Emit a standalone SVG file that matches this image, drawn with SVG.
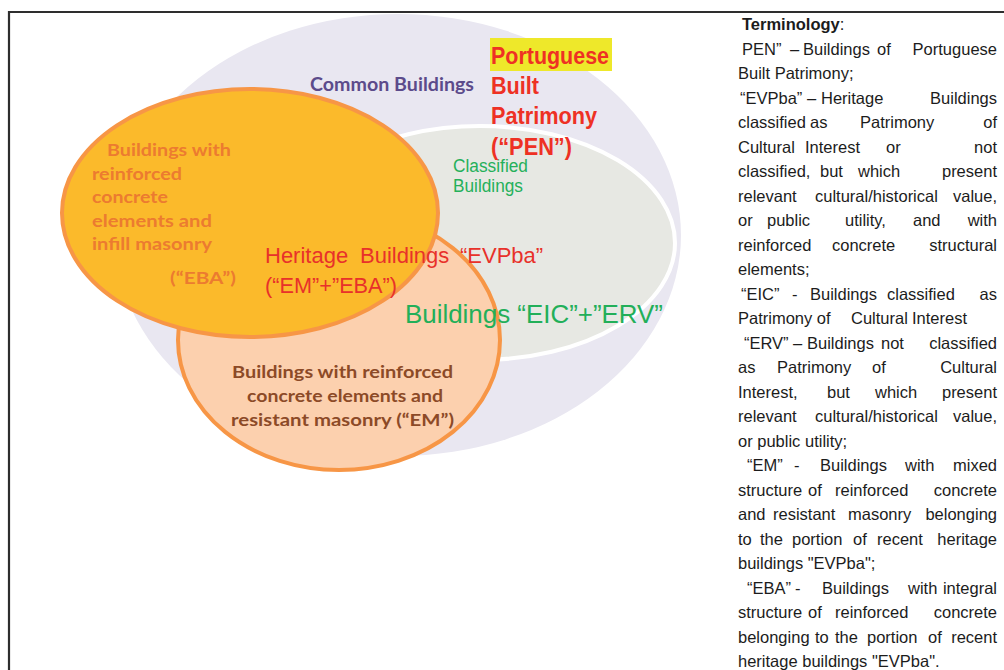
<svg xmlns="http://www.w3.org/2000/svg" width="1004" height="670" viewBox="0 0 1004 670">
<style>
.lbl{font-family:Lato,"Liberation Sans",sans-serif;font-weight:bold}
.nar{font-family:"Liberation Sans",Arial,sans-serif}
.term{font-family:"Liberation Sans",Arial,sans-serif;font-size:16.5px;fill:#1c1c1c}
.ring{stroke:#F79646;stroke-width:4}
</style>
<rect x="0" y="0" width="1004" height="670" fill="#ffffff"/>
<g id="frame" stroke="#2e2e2e" stroke-width="2.2" fill="none">
<line x1="8" y1="12" x2="1004" y2="12"/>
<line x1="9" y1="11" x2="9" y2="670"/>
</g>
<g id="common-buildings">
<ellipse cx="398" cy="235" rx="283" ry="221" fill="#E9E7F1"/>
<text class="lbl" x="310" y="91" font-size="18" fill="#5C4B8B" textLength="164" lengthAdjust="spacingAndGlyphs">Common Buildings</text>
</g>
<g id="classified-buildings">
<ellipse cx="480" cy="243" rx="195" ry="117" fill="#E7E8E3" stroke="#ffffff" stroke-width="4"/>
<text class="nar" x="453" y="172" font-size="17.5" fill="#25B05A" textLength="75" lengthAdjust="spacingAndGlyphs">Classified</text>
<text class="nar" x="453" y="192" font-size="17.5" fill="#25B05A" textLength="70" lengthAdjust="spacingAndGlyphs">Buildings</text>
</g>
<g id="em-buildings">
<ellipse class="ring" cx="339" cy="340" rx="161" ry="130" fill="#FCD0AE"/>
<text class="lbl" x="232" y="378" font-size="17.5" fill="#8C4A27" textLength="221" lengthAdjust="spacingAndGlyphs">Buildings with reinforced</text>
<text class="lbl" x="247" y="402" font-size="17.5" fill="#8C4A27" textLength="196" lengthAdjust="spacingAndGlyphs">concrete elements and</text>
<text class="lbl" x="231" y="426" font-size="17.5" fill="#8C4A27" textLength="223" lengthAdjust="spacingAndGlyphs">resistant masonry (“EM”)</text>
</g>
<g id="eba-buildings">
<ellipse class="ring" cx="250" cy="213" rx="188" ry="124" fill="#FBBA2B"/>
<g class="lbl" font-size="17" fill="#EC7B30">
<text x="107" y="156" textLength="124" lengthAdjust="spacingAndGlyphs">Buildings with</text>
<text x="92" y="180" textLength="90" lengthAdjust="spacingAndGlyphs">reinforced</text>
<text x="92" y="203" textLength="76" lengthAdjust="spacingAndGlyphs">concrete</text>
<text x="92" y="227" textLength="120" lengthAdjust="spacingAndGlyphs">elements and</text>
<text x="92" y="250" textLength="120" lengthAdjust="spacingAndGlyphs">infill masonry</text>
<text x="170" y="284" textLength="66" lengthAdjust="spacingAndGlyphs">(“EBA”)</text>
</g>
</g>
<g id="pen-label">
<rect x="490" y="38" width="122" height="33" fill="#EEE82A"/>
<g class="nar" font-weight="bold" font-size="23" fill="#EE3124">
<text x="491" y="64" textLength="118" lengthAdjust="spacingAndGlyphs">Portuguese</text>
<text x="491" y="94" textLength="48" lengthAdjust="spacingAndGlyphs">Built</text>
<text x="491" y="124" textLength="106" lengthAdjust="spacingAndGlyphs">Patrimony</text>
<text x="491" y="155" textLength="81" lengthAdjust="spacingAndGlyphs">(“PEN”)</text>
</g>
</g>
<g id="evpba-label" class="nar" font-size="22" fill="#E8312A">
<text y="263"><tspan x="265">Heritage</tspan><tspan x="360">Buildings</tspan><tspan x="460">“EVPba”</tspan></text>
<text x="265" y="293" textLength="132" lengthAdjust="spacingAndGlyphs">(“EM”+”EBA”)</text>
</g>
<g id="eic-erv-label">
<text class="nar" x="405" y="323" font-size="25" fill="#22AF59" textLength="258" lengthAdjust="spacingAndGlyphs">Buildings “EIC”+”ERV”</text>
</g>
<g id="connectors"></g>
<g id="terminology" class="term">
<text y="30"><tspan x="742" font-weight="bold">Terminology</tspan>:</text>
<text y="54.5"><tspan x="742">PEN”</tspan><tspan x="790">–</tspan><tspan x="803">Buildings</tspan><tspan x="877">of</tspan><tspan x="997" text-anchor="end">Portuguese</tspan></text>
<text x="738" y="79">Built Patrimony;</text>
<text y="103.5"><tspan x="740">“EVPba”</tspan><tspan x="807">–</tspan><tspan x="821">Heritage</tspan><tspan x="997" text-anchor="end">Buildings</tspan></text>
<text y="128"><tspan x="738">classified</tspan><tspan x="810">as</tspan><tspan x="860">Patrimony</tspan><tspan x="997" text-anchor="end">of</tspan></text>
<text y="152.5"><tspan x="738">Cultural</tspan><tspan x="805">Interest</tspan><tspan x="886">or</tspan><tspan x="997" text-anchor="end">not</tspan></text>
<text y="177"><tspan x="738">classified,</tspan><tspan x="820">but</tspan><tspan x="858">which</tspan><tspan x="997" text-anchor="end">present</tspan></text>
<text y="201.5"><tspan x="738">relevant</tspan><tspan x="815">cultural/historical</tspan><tspan x="997" text-anchor="end">value,</tspan></text>
<text y="226"><tspan x="738">or</tspan><tspan x="767">public</tspan><tspan x="845">utility,</tspan><tspan x="913">and</tspan><tspan x="997" text-anchor="end">with</tspan></text>
<text y="250.5"><tspan x="738">reinforced</tspan><tspan x="832">concrete</tspan><tspan x="997" text-anchor="end">structural</tspan></text>
<text x="738" y="275">elements;</text>
<text y="299.5"><tspan x="741">“EIC”</tspan><tspan x="792">-</tspan><tspan x="810">Buildings</tspan><tspan x="887">classified</tspan><tspan x="997" text-anchor="end">as</tspan></text>
<text y="324"><tspan x="738">Patrimony of</tspan><tspan x="851">Cultural</tspan><tspan x="912">Interest</tspan></text>
<text y="348.5"><tspan x="744">“ERV”</tspan><tspan x="793">–</tspan><tspan x="807">Buildings</tspan><tspan x="881">not</tspan><tspan x="997" text-anchor="end">classified</tspan></text>
<text y="373"><tspan x="738">as</tspan><tspan x="777">Patrimony</tspan><tspan x="872">of</tspan><tspan x="997" text-anchor="end">Cultural</tspan></text>
<text y="397.5"><tspan x="738">Interest,</tspan><tspan x="827">but</tspan><tspan x="875">which</tspan><tspan x="997" text-anchor="end">present</tspan></text>
<text y="422"><tspan x="738">relevant</tspan><tspan x="815">cultural/historical</tspan><tspan x="997" text-anchor="end">value,</tspan></text>
<text x="738" y="446.5">or public utility;</text>
<text y="471"><tspan x="747">“EM”</tspan><tspan x="794">-</tspan><tspan x="820">Buildings</tspan><tspan x="905">with</tspan><tspan x="997" text-anchor="end">mixed</tspan></text>
<text y="495.5"><tspan x="738">structure</tspan><tspan x="808">of</tspan><tspan x="835">reinforced</tspan><tspan x="997" text-anchor="end">concrete</tspan></text>
<text y="520"><tspan x="738">and</tspan><tspan x="773">resistant</tspan><tspan x="848">masonry</tspan><tspan x="997" text-anchor="end">belonging</tspan></text>
<text y="544.5"><tspan x="738">to</tspan><tspan x="760">the</tspan><tspan x="792">portion</tspan><tspan x="853">of</tspan><tspan x="877">recent</tspan><tspan x="997" text-anchor="end">heritage</tspan></text>
<text x="738" y="569">buildings "EVPba";</text>
<text y="593.5"><tspan x="747">“EBA”</tspan><tspan x="795">-</tspan><tspan x="822">Buildings</tspan><tspan x="908">with</tspan><tspan x="997" text-anchor="end">integral</tspan></text>
<text y="618"><tspan x="738">structure</tspan><tspan x="808">of</tspan><tspan x="835">reinforced</tspan><tspan x="997" text-anchor="end">concrete</tspan></text>
<text y="642.5"><tspan x="738">belonging</tspan><tspan x="815">to</tspan><tspan x="835">the</tspan><tspan x="867">portion</tspan><tspan x="928">of</tspan><tspan x="997" text-anchor="end">recent</tspan></text>
<text x="738" y="667">heritage buildings "EVPba".</text>
</g>
</svg>
